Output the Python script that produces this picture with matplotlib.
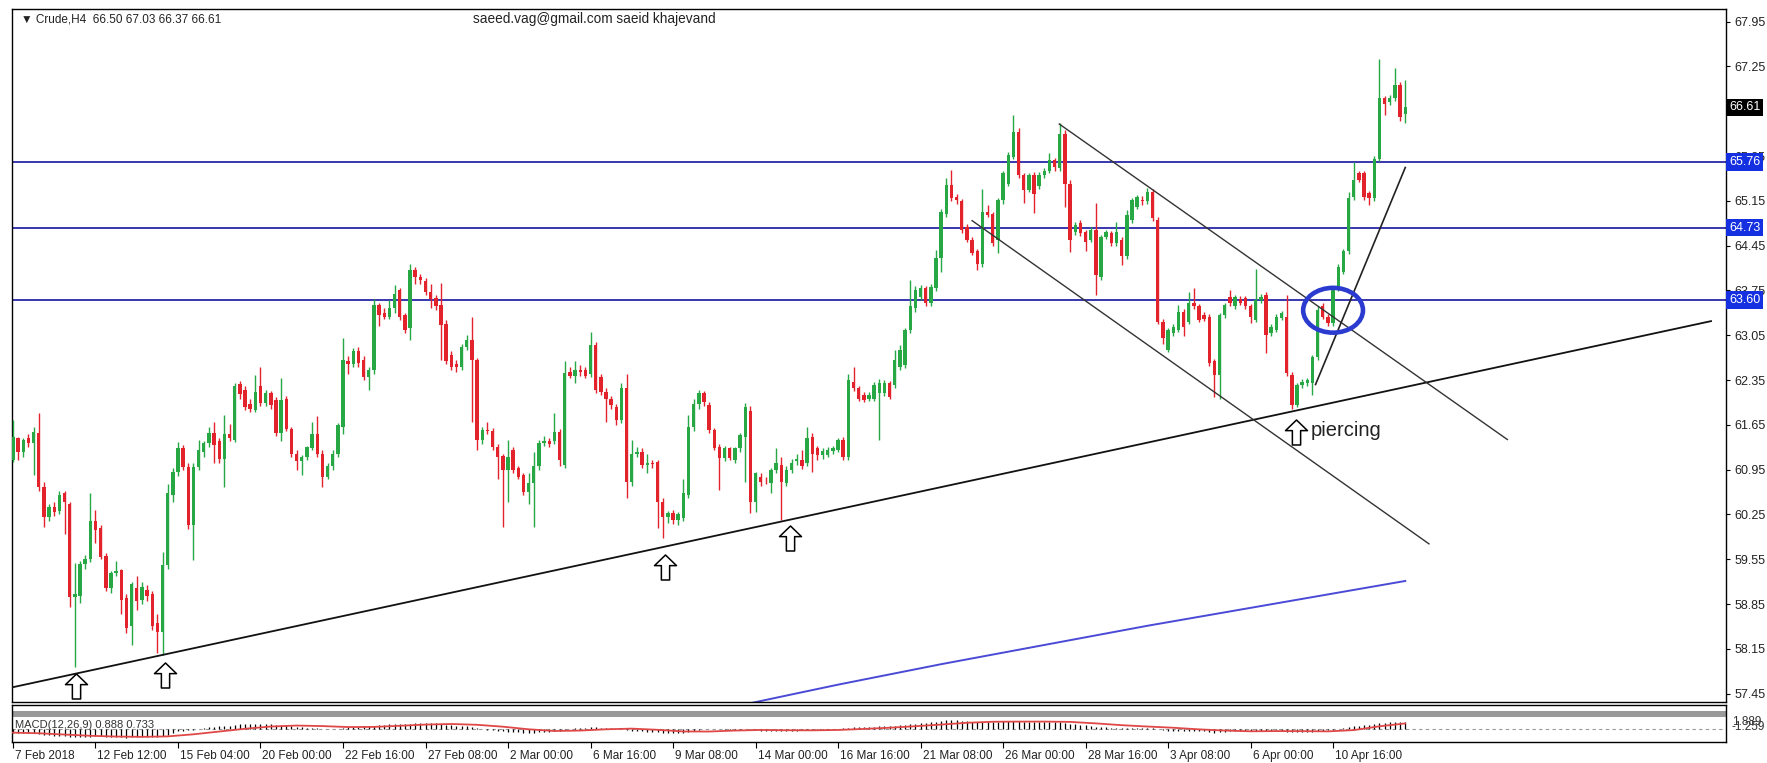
import matplotlib
matplotlib.use('Agg')
import matplotlib.pyplot as plt
from matplotlib.path import Path
from matplotlib.patches import Ellipse, Rectangle
import matplotlib.transforms as mtransforms
import numpy as np

plt.rcParams['font.family'] = ['Liberation Sans', 'DejaVu Sans']

# ---------------- data ----------------
opens = [
61.10,61.44,61.23,61.44,61.36,61.52,60.68,60.21,60.37,60.30,
60.58,60.42,58.96,58.98,59.48,59.55,60.14,60.03,59.60,59.10,
59.33,59.38,58.95,58.50,59.10,58.92,59.07,59.00,58.55,58.42,
59.46,60.55,60.92,61.28,60.99,60.08,60.99,61.22,61.36,61.52,
61.40,61.12,61.50,61.42,62.29,62.20,61.98,61.88,62.25,61.99,
62.14,62.04,61.52,62.06,61.59,61.20,61.08,61.15,61.28,61.50,
61.20,60.84,61.00,61.20,61.62,62.64,62.60,62.80,62.66,62.40,
62.51,63.52,63.40,63.33,63.47,63.75,63.36,63.16,64.07,63.96,
63.89,63.73,63.63,63.52,63.23,62.74,62.60,62.56,62.87,62.98,
62.66,61.41,61.57,61.55,61.30,61.17,60.94,61.26,60.97,60.86,
60.60,60.74,61.00,61.36,61.40,61.39,61.54,61.02,62.48,62.42,
62.50,62.50,62.45,62.90,62.40,62.17,62.06,61.93,61.72,62.22,
60.76,61.20,61.23,61.02,61.06,61.07,60.45,60.21,60.27,60.16,
60.20,60.55,61.62,61.98,62.14,61.96,61.57,61.31,61.13,61.28,
61.10,61.28,61.46,61.86,60.45,60.84,60.79,60.74,60.94,61.02,
60.74,60.94,61.08,61.10,61.05,61.46,61.28,61.18,61.18,61.24,
61.26,61.41,61.15,62.32,62.22,62.12,62.06,62.06,62.14,62.14,
62.30,62.27,62.56,62.58,63.13,63.47,63.65,63.78,63.55,63.78,
64.25,64.95,65.40,65.21,65.14,64.74,64.54,64.36,64.17,64.98,
64.95,64.54,65.16,65.42,65.84,66.23,65.55,65.32,65.55,65.38,
65.56,65.62,65.78,65.66,66.20,65.42,64.67,64.80,64.67,64.54,
64.69,63.96,64.59,64.64,64.49,64.54,64.28,64.85,65.06,65.16,
65.14,65.29,64.85,63.26,62.82,63.08,63.13,63.42,63.26,63.55,
63.50,63.37,63.34,62.64,62.43,63.36,63.65,63.50,63.62,63.63,
63.50,63.29,63.60,63.68,63.08,63.13,63.32,63.34,62.43,61.96,
62.27,62.30,62.30,62.71,63.50,63.34,63.24,63.78,64.04,64.36,
65.21,65.58,65.58,65.27,65.19,65.81,66.75,66.70,66.75,66.96,
66.50]
highs = [
61.72,61.46,61.45,61.50,61.62,61.83,60.75,60.42,60.45,60.62,
60.62,60.45,59.49,59.52,59.62,60.58,60.32,60.08,59.65,59.36,
59.52,59.40,59.00,59.20,59.28,59.20,59.15,59.05,58.70,59.67,
60.73,60.98,61.38,61.34,61.05,61.05,61.42,61.40,61.62,61.70,
61.45,61.80,61.66,62.30,62.33,62.25,62.05,62.43,62.56,62.20,
62.18,62.08,62.38,62.10,61.62,61.25,61.18,61.32,61.70,61.78,
61.25,61.05,61.25,61.68,63.00,62.72,62.85,62.86,62.72,62.55,
63.62,63.55,63.48,63.60,63.83,63.78,63.40,64.17,64.12,64.00,
63.95,63.85,63.68,63.86,63.28,62.80,62.66,62.92,63.05,63.34,
62.70,61.62,61.70,61.60,61.35,61.20,61.41,61.30,61.00,60.90,
60.90,61.22,61.42,61.48,61.45,61.83,61.58,62.64,62.55,62.65,
62.58,62.55,63.10,62.95,62.45,62.22,62.10,61.98,62.30,62.45,
61.42,61.30,61.28,61.20,61.10,61.10,60.50,60.30,60.32,60.28,
60.80,61.80,62.05,62.20,62.18,62.00,61.60,61.35,61.32,61.30,
61.30,61.52,61.99,61.95,60.92,60.90,60.84,60.98,61.28,61.15,
61.00,61.12,61.20,61.26,61.62,61.52,61.32,61.28,61.30,61.32,
61.45,61.46,62.45,62.56,62.26,62.16,62.16,62.32,62.36,62.35,
62.34,62.82,62.90,63.16,63.91,63.82,63.84,63.82,63.85,64.38,
65.02,65.50,65.63,65.26,65.18,64.78,64.58,64.40,65.34,65.08,
64.98,65.20,65.62,65.92,66.49,66.28,65.58,65.58,65.60,65.60,
65.66,65.89,65.82,66.36,66.26,65.48,64.82,64.85,64.70,64.74,
65.11,64.62,64.70,64.68,64.82,64.58,65.00,65.20,65.24,65.22,
65.35,65.33,64.90,63.30,63.16,63.22,63.52,63.46,63.73,63.78,
63.54,63.41,63.38,62.68,63.40,63.56,63.76,63.68,63.66,63.66,
63.54,64.09,63.69,63.72,63.22,63.38,63.43,63.68,62.47,62.30,
62.36,62.38,62.74,63.50,63.55,63.38,63.82,64.16,64.40,65.29,
65.76,65.62,65.62,65.31,65.85,67.37,66.79,66.80,67.22,67.00,
67.03]
lows = [
61.07,61.10,61.15,61.30,60.87,60.62,60.06,60.15,60.22,60.25,
59.95,58.81,57.87,58.86,59.40,59.50,59.80,59.55,59.05,59.02,
59.28,58.70,58.40,58.21,58.75,58.85,58.90,58.45,58.08,58.05,
59.40,60.45,60.85,60.95,60.02,59.54,60.95,61.15,61.30,61.05,
61.05,60.68,61.40,61.38,62.05,61.88,61.85,61.85,61.95,61.95,
61.90,61.48,61.40,61.55,61.15,60.95,60.87,61.10,61.25,61.15,
60.68,60.80,60.95,61.15,61.50,62.45,62.55,62.55,62.35,62.20,
62.45,63.20,63.30,63.30,63.40,63.28,63.08,62.97,63.85,63.85,
63.68,63.48,63.45,62.66,62.60,62.50,62.48,62.50,62.82,61.70,
61.26,61.35,61.50,61.25,60.81,60.06,60.45,60.90,60.80,60.55,
60.42,60.06,60.95,61.32,61.30,61.35,61.00,60.98,62.38,62.30,
62.42,62.38,62.40,62.15,62.12,61.70,61.90,61.65,61.68,60.50,
60.70,61.15,60.98,60.90,60.98,60.03,59.88,60.12,60.10,60.08,
60.15,60.50,61.55,61.90,61.95,61.52,61.25,60.63,61.08,61.10,
61.05,61.22,60.76,60.27,60.29,60.70,60.72,60.58,60.90,60.16,
60.70,60.90,61.02,60.96,61.00,60.92,61.10,61.12,61.14,61.20,
61.22,61.10,61.10,62.18,62.02,62.00,62.02,62.02,61.41,62.10,
62.05,62.22,62.50,62.54,63.08,63.42,63.60,63.50,63.50,63.74,
64.04,64.90,65.15,65.10,64.65,64.50,64.30,64.07,64.12,64.90,
64.45,64.33,65.10,65.38,65.80,65.50,65.11,65.28,64.96,65.34,
65.50,65.58,65.62,65.62,65.06,64.35,64.62,64.60,64.36,64.50,
63.68,63.92,64.55,64.45,64.45,64.15,64.24,64.80,65.02,65.08,
65.10,64.84,63.22,62.92,62.78,63.04,63.10,63.03,63.22,63.46,
63.25,63.27,62.57,62.09,62.06,63.32,63.50,63.46,63.52,63.46,
63.24,63.25,63.56,62.77,63.04,63.10,63.28,62.42,61.90,61.93,
62.22,62.26,62.12,62.67,63.30,63.20,63.20,63.74,64.00,64.32,
65.17,65.44,65.17,65.08,65.15,65.77,66.49,66.65,66.71,66.40,
66.37]
closes = [
61.46,61.23,61.41,61.36,61.54,60.68,60.21,60.37,60.29,60.55,
60.45,58.96,59.00,59.48,59.55,60.14,60.00,59.59,59.10,59.33,
59.36,58.91,58.47,59.17,58.90,59.12,58.98,58.50,58.42,59.46,
60.58,60.92,61.28,60.99,60.08,60.99,61.26,61.36,61.52,61.34,
61.12,61.50,61.45,62.25,62.13,61.93,61.90,62.16,61.99,62.14,
61.96,61.52,62.04,61.59,61.20,61.08,61.15,61.30,61.50,61.20,
60.84,61.00,61.20,61.64,62.66,62.60,62.80,62.62,62.40,62.51,
63.52,63.37,63.33,63.47,63.70,63.34,63.13,64.07,63.96,63.92,
63.73,63.62,63.50,63.21,62.64,62.56,62.55,62.87,62.98,62.66,
61.41,61.57,61.55,61.30,61.15,60.94,61.15,60.94,60.84,60.60,
60.74,61.00,61.36,61.40,61.35,61.54,61.10,62.46,62.42,62.50,
62.48,62.42,62.90,62.20,62.17,62.06,61.96,61.72,62.22,60.76,
61.20,61.23,61.02,61.05,61.04,60.45,60.21,60.27,60.16,60.25,
60.58,61.62,61.98,62.14,62.00,61.57,61.28,61.13,61.28,61.13,
61.28,61.49,61.93,60.45,60.89,60.76,60.78,60.94,61.05,60.76,
60.94,61.05,61.12,61.00,61.44,61.20,61.18,61.24,61.26,61.28,
61.41,61.15,62.35,62.22,62.06,62.04,62.12,62.27,62.30,62.30,
62.09,62.66,62.82,63.13,63.50,63.76,63.78,63.55,63.81,64.25,
64.98,65.40,65.19,65.16,64.69,64.54,64.33,64.17,64.98,64.93,
64.49,65.16,65.58,65.86,66.23,65.55,65.32,65.55,65.26,65.56,
65.62,65.78,65.68,66.20,65.42,64.54,64.77,64.64,64.51,64.69,
63.99,64.59,64.67,64.49,64.67,64.28,64.93,65.16,65.21,65.14,
65.29,64.88,63.26,63.00,63.13,63.18,63.42,63.18,63.55,63.50,
63.29,63.31,62.61,62.43,63.36,63.52,63.55,63.65,63.56,63.50,
63.34,63.60,63.65,63.05,63.18,63.34,63.39,62.46,61.96,62.27,
62.32,62.35,62.71,63.45,63.34,63.24,63.78,64.12,64.36,65.19,
65.48,65.48,65.21,65.19,65.81,66.75,66.67,66.75,66.96,66.46,
66.61]

macd_main = [
-0.55,-0.58,-0.60,-0.60,-0.58,-0.65,-0.78,-0.85,-0.90,-0.90,
-0.90,-1.05,-1.12,-1.12,-1.10,-1.02,-0.98,-0.99,-1.05,-1.05,
-1.04,-1.08,-1.15,-1.10,-1.08,-1.05,-1.04,-1.08,-1.12,-0.98,
-0.75,-0.52,-0.30,-0.22,-0.20,-0.08,0.05,0.16,0.26,0.32,
0.34,0.40,0.44,0.55,0.60,0.62,0.62,0.64,0.64,0.64,
0.62,0.56,0.56,0.50,0.40,0.30,0.22,0.17,0.15,0.11,
0.04,0.00,-0.02,0.01,0.12,0.20,0.28,0.32,0.33,0.34,
0.45,0.52,0.56,0.60,0.65,0.66,0.64,0.72,0.76,0.78,
0.78,0.76,0.73,0.68,0.58,0.48,0.40,0.36,0.34,0.28,
0.10,-0.02,-0.10,-0.18,-0.26,-0.34,-0.38,-0.42,-0.46,-0.52,
-0.54,-0.52,-0.46,-0.40,-0.36,-0.30,-0.30,-0.12,0.00,0.08,
0.14,0.18,0.24,0.22,0.18,0.12,0.08,0.02,0.02,-0.15,
-0.22,-0.27,-0.32,-0.35,-0.37,-0.45,-0.52,-0.56,-0.58,-0.58,
-0.52,-0.38,-0.22,-0.10,-0.03,0.00,-0.02,-0.06,-0.08,-0.10,
-0.10,-0.08,-0.02,-0.14,-0.20,-0.24,-0.27,-0.28,-0.27,-0.28,
-0.27,-0.25,-0.22,-0.20,-0.15,-0.13,-0.12,-0.10,-0.08,-0.05,
-0.05,0.08,0.16,0.21,0.24,0.27,0.30,0.32,0.34,0.34,
0.38,0.42,0.48,0.58,0.66,0.72,0.74,0.78,0.86,0.98,
1.10,1.16,1.18,1.16,1.10,1.02,0.94,0.96,0.94,0.88,
0.90,0.94,1.00,1.08,1.04,1.00,0.98,0.95,0.94,0.93,
0.93,0.94,0.96,0.93,0.84,0.70,0.62,0.54,0.47,0.42,
0.30,0.26,0.22,0.18,0.16,0.10,0.12,0.14,0.16,0.17,
0.17,0.12,-0.05,-0.18,-0.26,-0.30,-0.32,-0.34,-0.33,-0.33,
-0.34,-0.34,-0.42,-0.48,-0.42,-0.36,-0.32,-0.29,-0.27,-0.26,
-0.27,-0.24,-0.26,-0.24,-0.22,-0.20,-0.26,-0.35,-0.42,-0.45,
-0.46,-0.43,-0.36,-0.28,-0.22,-0.16,-0.08,0.02,0.10,0.24,
0.36,0.44,0.48,0.50,0.62,0.78,0.84,0.88,0.90,0.88,
0.888]
signal_bars = [0,5,10,15,20,25,30,35,40,45,50,55,60,65,70,75,80,85,90,95,
               100,105,110,115,120,125,130,135,140,145,150,155,160,165,170,175,
               180,185,190,195,200,205,210,215,220,225,230,235,240,245,250,255,
               260,265,270]
signal_vals = [-0.50,-0.58,-0.75,-0.92,-1.02,-1.06,-1.00,-0.72,-0.35,0.02,
               0.32,0.45,0.38,0.25,0.27,0.42,0.58,0.66,0.55,0.30,
               -0.05,-0.28,-0.22,-0.05,0.04,-0.12,-0.34,-0.35,-0.22,-0.14,
               -0.18,-0.19,-0.14,0.00,0.16,0.36,0.58,0.82,0.96,0.98,
               0.98,0.94,0.74,0.50,0.32,0.16,-0.06,-0.22,-0.32,-0.29,
               -0.30,-0.33,-0.16,0.35,0.733]

ma_bars = [143,150,160,170,180,190,200,210,220,230,240,250,260,270]
ma_vals = [57.30,57.42,57.59,57.75,57.91,58.06,58.21,58.36,58.51,58.65,58.79,58.93,59.07,59.21]

hlevels = [65.76, 64.73, 63.60]
support_x = [-0.33, 329.3]; support_y = [57.545, 63.27]
chan_up_x = [202.9, 289.8]; chan_up_y = [66.35, 61.42]
chan_lo_x = [186.0, 274.6]; chan_lo_y = [64.84, 59.79]
steep_x = [252.6, 270.0]; steep_y = [62.28, 65.67]
ellipse_center = (256.0, 63.44); ellipse_w = 11.6; ellipse_h = 0.70
arrow_x = [12.2, 29.4, 126.5, 150.7, 248.8]
arrow_y = [57.57, 57.74, 59.43, 59.88, 61.54]

yticks = [57.45, 58.15, 58.85, 59.55, 60.25, 60.95, 61.65, 62.35, 63.05,
          63.75, 64.45, 65.15, 65.85, 67.25, 67.95]
tick_bars = [0, 16, 32, 48, 64, 80, 96, 112, 128, 144, 160, 176, 192, 208, 224, 240, 256]
tick_labels = ['7 Feb 2018', '12 Feb 12:00', '15 Feb 04:00', '20 Feb 00:00', '22 Feb 16:00',
               '27 Feb 08:00', '2 Mar 00:00', '6 Mar 16:00', '9 Mar 08:00', '14 Mar 00:00',
               '16 Mar 16:00', '21 Mar 08:00', '26 Mar 00:00', '28 Mar 16:00', '3 Apr 08:00',
               '6 Apr 00:00', '10 Apr 16:00']

# ---------------- figure ----------------
W, H = 1767, 763
fig = plt.figure(figsize=(W / 100, H / 100), dpi=100)
fig.patch.set_facecolor('white')

def fx(px):
    return px / W

def fy(py):
    return 1 - py / H

ax = fig.add_axes([fx(12), fy(702), fx(1726) - fx(12), fy(9) - fy(702)])
axm = fig.add_axes([fx(12), fy(742), fx(1726) - fx(12), fy(705) - fy(742)], sharex=ax)

GREEN = '#27a844'
RED = '#e3232b'
LBLUE = '#2727a8'

O = np.array(opens); Hh = np.array(highs); L = np.array(lows); C = np.array(closes)
x = np.arange(len(C))
cols = np.where(C >= O, GREEN, RED)

for lvl in hlevels:
    ax.axhline(lvl, color=LBLUE, lw=1.3, zorder=1)

ax.vlines(x, L, Hh, colors=cols, lw=1.0, zorder=3)
ax.bar(x, np.maximum(np.abs(C - O), 0.014), width=0.66, bottom=np.minimum(O, C),
       color=cols, linewidth=0, zorder=4)

ax.plot(ma_bars, ma_vals, color='#4a4ad6', lw=1.4, zorder=2)
ax.plot(support_x, support_y, color='#111111', lw=1.3, zorder=5)
ax.plot(chan_up_x, chan_up_y, color='#333333', lw=1.0, zorder=5)
ax.plot(chan_lo_x, chan_lo_y, color='#333333', lw=1.0, zorder=5)
ax.plot(steep_x, steep_y, color='#222222', lw=1.2, zorder=5)
ax.add_patch(Ellipse(ellipse_center, ellipse_w, ellipse_h, fill=False,
                     edgecolor='#2b3bd0', lw=3.3, zorder=6))

verts = [(0, 1), (0.88, 0.15), (0.33, 0.15), (0.33, -1), (-0.33, -1),
         (-0.33, 0.15), (-0.88, 0.15), (0, 1)]
codes = [Path.MOVETO] + [Path.LINETO] * 6 + [Path.CLOSEPOLY]
arrow_marker = Path(verts, codes)
ax.plot(arrow_x, arrow_y, linestyle='none', marker=arrow_marker, markersize=18,
        markerfacecolor='white', markeredgecolor='black', markeredgewidth=1.1, zorder=7)
ax.text(251.7, 61.48, 'piercing', fontsize=14.5, color='#222222', ha='left',
        va='baseline', zorder=7)

ax.set_xlim(-0.19, 332.2)
ax.set_ylim(57.319, 68.147)
ax.yaxis.tick_right()
ax.set_yticks(yticks)
ax.set_yticklabels(['%.2f' % v for v in yticks])
ax.tick_params(axis='y', length=3, width=0.8, pad=3, labelsize=9, labelcolor='#222222')
ax.tick_params(axis='x', which='both', bottom=False, labelbottom=False)
for s in ax.spines.values():
    s.set_color('black'); s.set_linewidth(1.0)

trans = mtransforms.blended_transform_factory(ax.transAxes, ax.transData)
box_labels = [(66.61, 'black'), (65.76, '#1530e0'), (64.73, '#1530e0'), (63.60, '#1530e0')]
for p, bg in box_labels:
    ax.text(1.0018, p, '%.2f' % p, transform=trans, fontsize=9, color='white',
            ha='left', va='center', clip_on=False, zorder=10,
            bbox=dict(boxstyle='square,pad=0.22', fc=bg, ec='none'))

# header
fig.text(fx(21), fy(19), '\u25bc Crude,H4  66.50 67.03 66.37 66.61', fontsize=8.5,
         color='#222222', va='center', ha='left', family=['Liberation Sans', 'DejaVu Sans'])
fig.text(fx(473), fy(19), 'saeed.vag@gmail.com saeid khajevand', fontsize=9.8,
         color='#222222', va='center', ha='left')

# MACD panel
axm.set_ylim(-1.75, 3.2)
axm.add_patch(Rectangle((0, 0.676), 1, 0.162, transform=axm.transAxes,
                        facecolor='#9a9a9a', edgecolor='none', zorder=1))
axm.axhline(0, color='#9a9a9a', lw=0.8, ls=(0, (3, 3)), zorder=2)
axm.vlines(x, 0, macd_main, color='black', lw=0.9, zorder=3)
axm.plot(signal_bars, signal_vals, color='#e04848', lw=1.3, zorder=4)
axm.text(0.002, 0.47, 'MACD(12,26,9) 0.888 0.733', transform=axm.transAxes,
         fontsize=8, color='#333333', va='center', ha='left', zorder=5)
axm.set_yticks([])
mt = mtransforms.blended_transform_factory(axm.transAxes, fig.transFigure)
axm.text(1.0035, fy(722), '1.889', transform=mt, fontsize=8.5, color='#333333',
         va='center', ha='left', clip_on=False)
axm.text(1.0035, fy(727), '-1.259', transform=mt, fontsize=8.5, color='#333333',
         va='center', ha='left', clip_on=False)
axm.set_xticks(tick_bars)
axm.set_xticklabels(tick_labels)
axm.tick_params(axis='x', length=4, width=0.8, pad=1.5, labelsize=8.5, labelcolor='#222222')
offset = mtransforms.ScaledTranslation(2 / 100, 0, fig.dpi_scale_trans)
for lab in axm.get_xticklabels():
    lab.set_horizontalalignment('left')
    lab.set_transform(lab.get_transform() + offset)
for s in axm.spines.values():
    s.set_color('black'); s.set_linewidth(1.0)
axm.set_xlim(-0.19, 332.2)

fig.savefig('out.png', dpi=100, facecolor='white')
